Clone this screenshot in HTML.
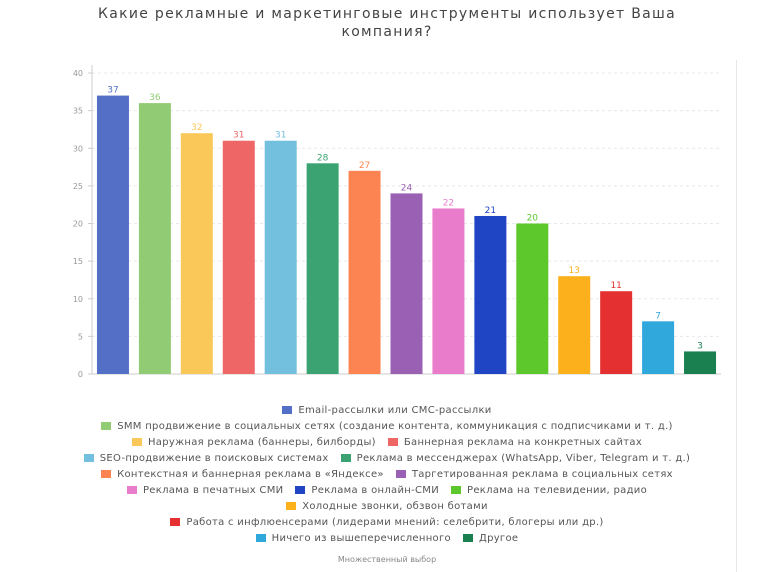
<!DOCTYPE html>
<html><head><meta charset="utf-8">
<style>
html,body{margin:0;padding:0;background:#fff;}
body{width:774px;height:572px;position:relative;overflow:hidden;font-family:"DejaVu Sans","Liberation Sans",sans-serif;}
#title{position:absolute;left:0;width:774px;top:5px;text-align:center;font-size:14px;line-height:18px;color:#444;letter-spacing:1.3px;}
#legend{position:absolute;left:0;width:774px;top:402px;font-size:10px;color:#555;letter-spacing:0.3px;}
.row{display:flex;justify-content:center;height:16px;align-items:center;}
.item{display:flex;align-items:center;margin:0 6px;white-space:nowrap;}
.sw{width:10px;height:8px;margin-right:6px;display:inline-block;}
#foot{position:absolute;left:0;width:774px;top:555px;text-align:center;font-size:8px;color:#888;}
#border{position:absolute;left:736px;top:60px;width:1px;height:512px;background:#e6e6e6;}
</style></head>
<body>
<div id="title">Какие рекламные и маркетинговые инструменты использует Ваша<br>компания?</div>
<svg id="chart" width="774" height="400" style="position:absolute;left:0;top:0"></svg>
<div id="legend"></div>
<div id="foot">Множественный выбор</div>
<div id="border"></div>
<script>
const categories=["Email-рассылки или СМС-рассылки","SMM продвижение в социальных сетях (создание контента, коммуникация с подписчиками и т. д.)","Наружная реклама (баннеры, билборды)","Баннерная реклама на конкретных сайтах","SEO-продвижение в поисковых системах","Реклама в мессенджерах (WhatsApp, Viber, Telegram и т. д.)","Контекстная и баннерная реклама в «Яндексе»","Таргетированная реклама в социальных сетях","Реклама в печатных СМИ","Реклама в онлайн-СМИ","Реклама на телевидении, радио","Холодные звонки, обзвон ботами","Работа с инфлюенсерами (лидерами мнений: селебрити, блогеры или др.)","Ничего из вышеперечисленного","Другое"];
const values=[37,36,32,31,31,28,27,24,22,21,20,13,11,7,3];
const colors=["#5470c6","#91cc75","#fac858","#ee6666","#73c0de","#3ba272","#fc8452","#9a60b4","#ea7ccc","#1f45c4","#5dc82b","#fbb01c","#e43030","#30a8dc","#1b8050"];
const yTicks=[0,5,10,15,20,25,30,35,40];
const legendRows=[[0],[1],[2,3],[4,5],[6,7],[8,9,10],[11],[12],[13,14]];

const NS="http://www.w3.org/2000/svg";
const svg=document.getElementById('chart');
const x0=92,x1=721,yBase=374,yTop=73,yMax=40;
const band=(x1-x0)/values.length,bw=32;
function y(v){return yBase-(v/yMax)*(yBase-yTop);}
function xc(i){return x0+band*(i+0.5);}
function mk(tag,attrs){const e=document.createElementNS(NS,tag);for(const k in attrs)e.setAttribute(k,attrs[k]);svg.appendChild(e);return e;}
yTicks.forEach(t=>{
  const g=mk('line',{x1:x0,x2:x1,y1:y(t),y2:y(t),stroke:t===0?'#ccc':'#e8e8e8','stroke-dasharray':t===0?'':'3,3'});
  
  
  const tk=mk('line',{x1:x0-4,x2:x0,y1:y(t),y2:y(t),stroke:'#ccc'});
  
  
  const tx=mk('text',{x:x0-9,y:y(t)+3,'text-anchor':'end','font-size':'8','fill':'#999'});
  tx.textContent=t;
  
  
});
const ax=mk('line',{x1:x0,x2:x0,y1:yTop-8,y2:yBase,stroke:'#ccc'});


values.forEach((v,i)=>{
  const r=mk('rect',{x:xc(i)-bw/2,y:y(v),width:bw,height:yBase-y(v),fill:colors[i]});
  
  
  const t=mk('text',{x:xc(i),y:y(v)-3,'text-anchor':'middle','font-size':'9','fill':colors[i]});
  t.textContent=v;
  
  
});
const lg=document.getElementById('legend');
legendRows.forEach(row=>{
  const r=document.createElement('div');r.className='row';
  
  
  row.forEach(i=>{
    const it=document.createElement('div');it.className='item';
    
    
    const sw=document.createElement('span');sw.className='sw';sw.style.background=colors[i];
    it.appendChild(sw);it.appendChild(document.createTextNode(categories[i]));
    r.appendChild(it);
  });
  lg.appendChild(r);
});
</script>
</body></html>
